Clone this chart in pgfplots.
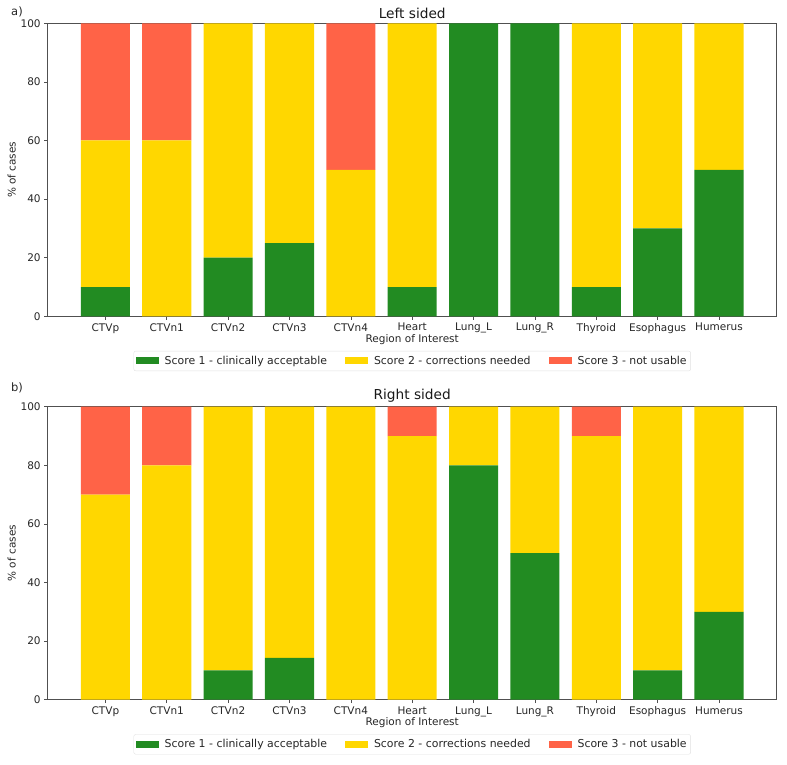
\documentclass[border=0pt]{standalone}
\usepackage{fontspec}
\setmainfont{DejaVu Sans}
\usepackage{pgfplots}
\usepackage{pgfplotstable}
\pgfplotsset{compat=1.18}
\definecolor{sgreen}{RGB}{34,139,34}
\definecolor{sgold}{RGB}{255,215,0}
\definecolor{stomato}{RGB}{255,99,71}
\definecolor{axgray}{RGB}{80,80,80}

\pgfplotstableread{
x s1 s2 s3
0 10 50 40
1 0 60 40
2 20 80 0
3 25 75 0
4 0 50 50
5 10 90 0
6 100 0 0
7 100 0 0
8 10 90 0
9 30 70 0
10 50 50 0
}\lefttab

\pgfplotstableread{
x s1 s2 s3
0 0 70 30
1 0 80 20
2 10 90 0
3 14.29 85.71 0
4 0 100 0
5 0 90 10
6 80 20 0
7 50 50 0
8 0 90 10
9 10 90 0
10 30 70 0
}\righttab

\pgfplotsset{
  mystyle/.style={
    scale only axis,
    width=729pt, height=293pt,
    ybar stacked,
    bar width=0.8,
    xmin=-0.94, xmax=10.94,
    ymin=0, ymax=100,
    xtick=data,
    xticklabels={CTVp,CTVn1,CTVn2,CTVn3,CTVn4,Heart,Lung\_L,Lung\_R,Thyroid,Esophagus,Humerus},
    ytick={0,20,40,60,80,100},
    tick align=outside,
    tick pos=left,
    major tick length=3.5pt,
    every tick/.style={axgray, line width=0.6pt},
    axis line style={axgray, line width=0.6pt},
    /pgf/number format/assume math mode=true,
    tick label style={font=\fontsize{10.5}{12}\selectfont, text=black!85},
    label style={font=\fontsize{10.5}{12}\selectfont, text=black!85},
    xlabel={Region of Interest},
    ylabel={\% of cases},
    xlabel style={yshift=6pt},
    ylabel style={yshift=-2pt},
    title style={font=\fontsize{13.7}{15}\selectfont, yshift=-5pt, text=black!90},
    legend columns=3,
    legend style={at={(0.5,-0.118)}, anchor=north, draw=black!12, rounded corners=2pt,
      font=\fontsize{10.9}{13}\selectfont, text=black!85,
      /tikz/every odd column/.append style={column sep=4pt},
      /tikz/every even column/.append style={column sep=16pt},
      inner xsep=2pt, inner ysep=3pt},
    legend image code/.code={\fill[##1, sharp corners] (0pt,-3.5pt) rectangle (23pt,3.5pt);},
  }
}

\begin{document}
\begin{tikzpicture}[x=1pt,y=1pt]
\path[use as bounding box] (0,0) rectangle (787,-765);
\node[font=\fontsize{11.5}{13}\selectfont, text=black!85] at (17,-12) {a)};
\node[font=\fontsize{11.5}{13}\selectfont, text=black!85] at (17,-388) {b)};
\begin{axis}[mystyle, at={(47.7pt,-23.3pt)}, anchor=north west, title={Left sided}]
\addplot[fill=sgreen, draw=none] table[x=x,y=s1]{\lefttab};
\addplot[fill=sgold, draw=none] table[x=x,y=s2]{\lefttab};
\addplot[fill=stomato, draw=none] table[x=x,y=s3]{\lefttab};
\legend{Score 1 - clinically acceptable, Score 2 - corrections needed, Score 3 - not usable}
\end{axis}
\begin{axis}[mystyle, at={(47.7pt,-406.7pt)}, anchor=north west, title={Right sided}]
\addplot[fill=sgreen, draw=none] table[x=x,y=s1]{\righttab};
\addplot[fill=sgold, draw=none] table[x=x,y=s2]{\righttab};
\addplot[fill=stomato, draw=none] table[x=x,y=s3]{\righttab};
\legend{Score 1 - clinically acceptable, Score 2 - corrections needed, Score 3 - not usable}
\end{axis}
\end{tikzpicture}
\end{document}
